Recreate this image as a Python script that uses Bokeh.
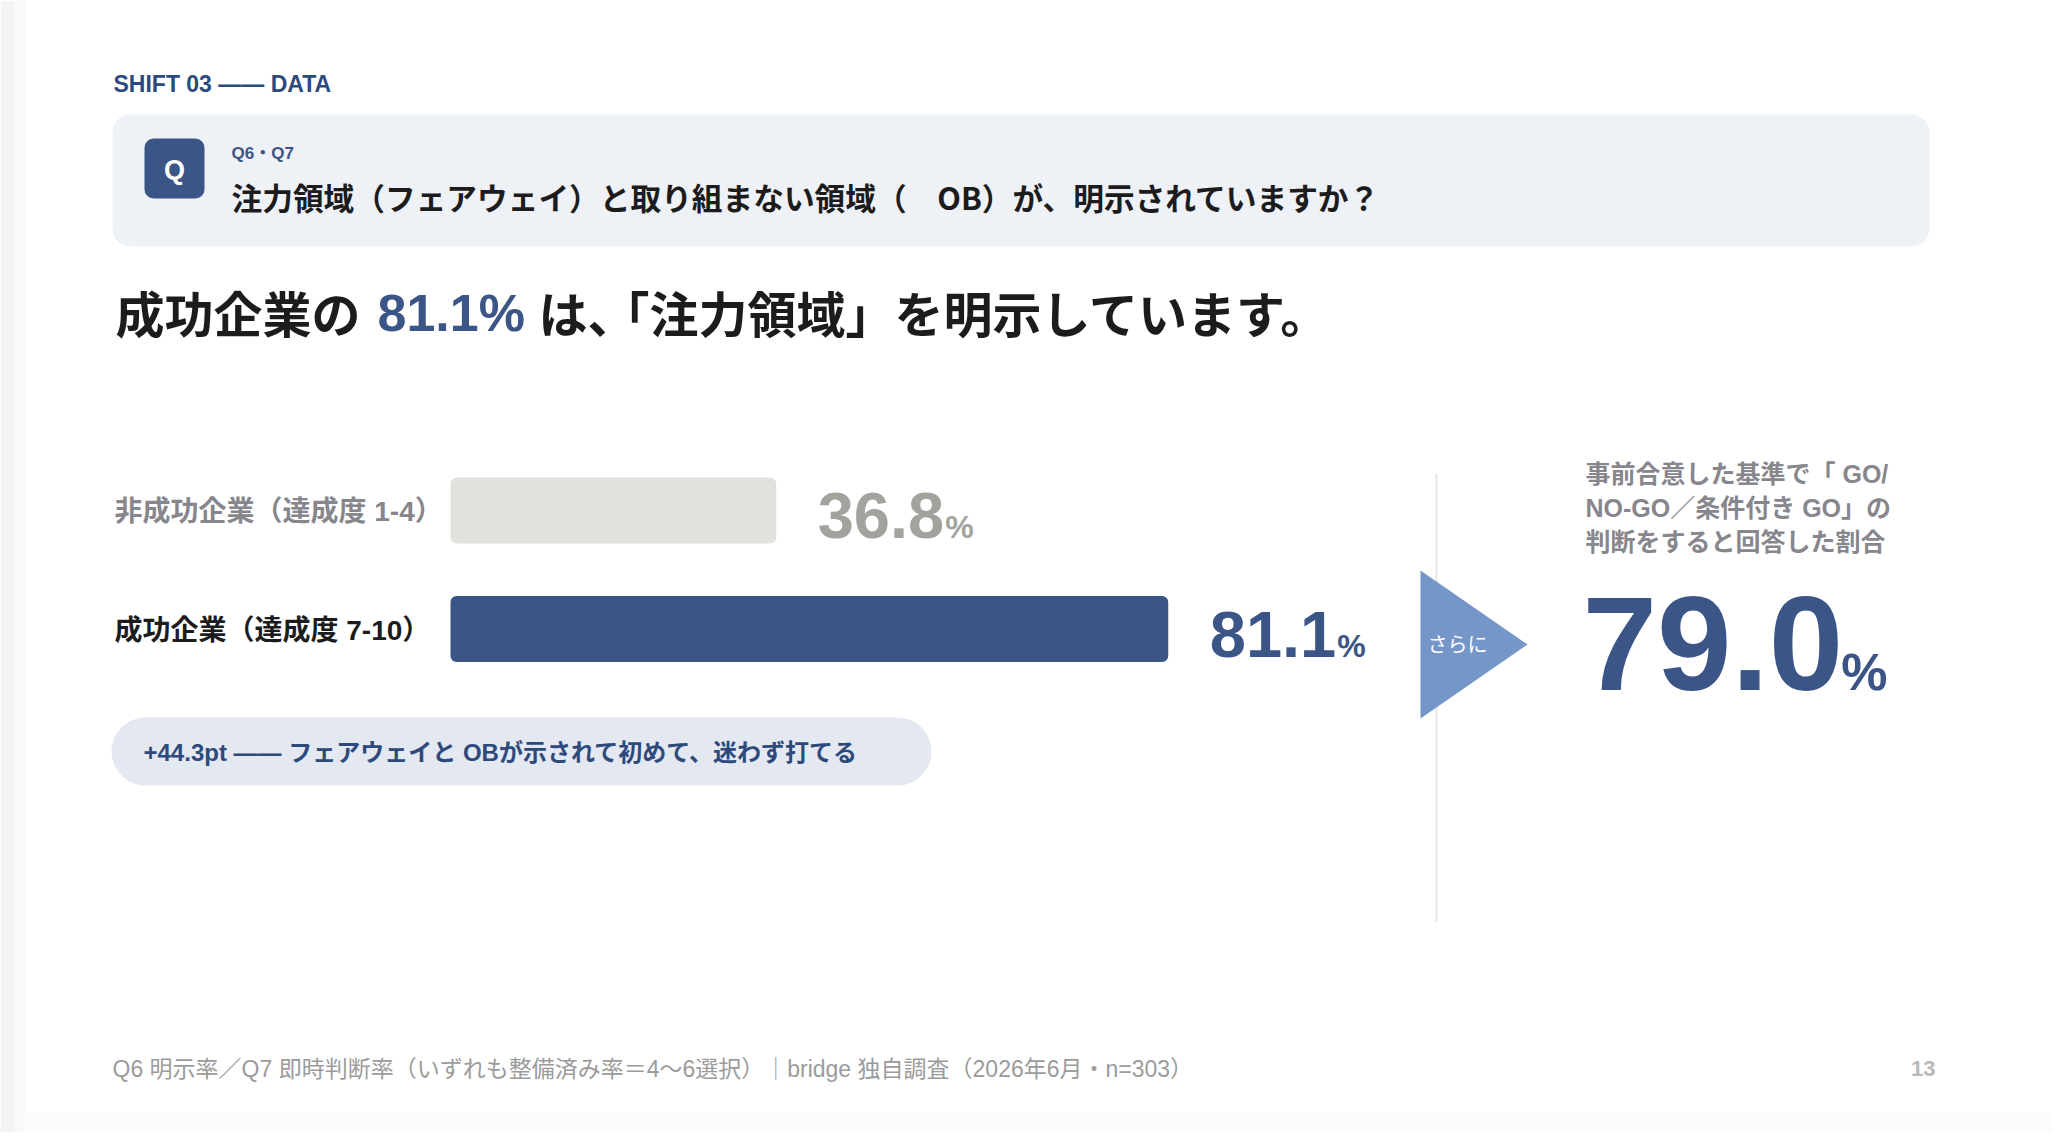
from bokeh.plotting import figure
from bokeh.models import Range1d
from bokeh.core.properties import value
from bokeh.embed import file_html
from bokeh.resources import INLINE

# ---------------- data ----------------
section_label = "SHIFT 03 —— DATA"
question_id = "Q6・Q7"
question_text = "注力領域（フェアウェイ）と取り組まない領域（　OB）が、明示されていますか？"
headline_parts = ["成功企業の", "81.1%", "は、", "「注力領域」を明示しています。"]
categories = ["非成功企業（達成度 1-4）", "成功企業（達成度 7-10）"]
values = [36.8, 81.1]
gap_note = "+44.3pt —— フェアウェイと OBが示されて初めて、迷わず打てる"
arrow_label = "さらに"
further_desc = ["事前合意した基準で「 GO/", "NO-GO／条件付き GO」の", "判断をすると回答した割合"]
further_value = 79.0
footer_text = "Q6 明示率／Q7 即時判断率（いずれも整備済み率＝4〜6選択）｜bridge 独自調査（2026年6月・n=303）"
page_no = "13"

# ---------------- styles ----------------
NAVY = "#3b5587"
DARK = "#1c1c1c"
GRAY_LABEL = "#86868c"
GRAY_NUM = "#a3a39d"
GRAY_BAR = "#e2e1dc"
BOX_BG = "#eef1f6"
PILL_BG = "#e4e8f1"
PILL_TXT = "#2e4a7d"
TRI = "#7596c8"
JP = "Noto Sans CJK JP"
LAT = "Liberation Sans"
MIX = "Liberation Sans, Noto Sans CJK JP"

W, H = 2052, 1132
OFF = 0             # figure origin on screen
BAR_X0 = 450.0      # screen x of 0 %
PX_PER_PCT = 8.85   # screen px per 1 %


def X(sx):
    return (sx - BAR_X0) / PX_PER_PCT


def Y(sy):
    return sy - OFF


def num_width(s, size):
    w = 0.0
    for ch in s:
        w += 0.278 if ch == "." else 0.556
    return w * size


p = figure(width=W, height=H, x_range=Range1d(X(OFF), X(OFF + W)), y_range=Range1d(H, 0),
           output_backend="svg", toolbar_location=None, min_border=0)
p.min_border_left = p.min_border_right = p.min_border_top = p.min_border_bottom = 0
p.axis.visible = False
p.grid.visible = False
p.outline_line_color = None
p.background_fill_color = "white"
p.border_fill_color = "white"


def txt(sx, sy, s, font, size, color, style="bold", align="left", baseline="middle"):
    p.text(x=[X(sx)], y=[Y(sy)], text=[s], text_font=value(font), text_font_size=value(f"{size}px"),
           text_font_style=style, text_color=color, text_align=align, text_baseline=baseline)


# page edge shading
p.quad(left=[X(0)], right=[X(14)], top=[Y(0)], bottom=[Y(1132)], color="#f4f4f4", line_color=None)
p.quad(left=[X(14)], right=[X(26)], top=[Y(0)], bottom=[Y(1132)], color="#f9f9f9", line_color=None)
p.quad(left=[X(26)], right=[X(2052)], top=[Y(1112)], bottom=[Y(1132)], color="#fbfbfb", line_color=None)

# section label
txt(113, 83, section_label, MIX, 23, "#2c4a80")

# question box
p.quad(left=[X(112)], right=[X(1929)], top=[Y(114)], bottom=[Y(246)], color=BOX_BG, line_color=None,
       border_radius=18)
p.quad(left=[X(144)], right=[X(204)], top=[Y(138)], bottom=[Y(198)], color=NAVY, line_color=None,
       border_radius=9)
txt(174, 169, "Q", LAT, 27, "white", align="center")
txt(231, 153, question_id, MIX, 17, NAVY)
txt(231, 196, question_text, JP, 30.7, DARK)

# headline
txt(115, 311, headline_parts[0], JP, 49, DARK)
txt(377, 312, headline_parts[1], LAT, 52, NAVY)
txt(538, 311, headline_parts[2], JP, 49, DARK)
txt(600, 311, headline_parts[3], JP, 49, DARK)

# bars
bar_y = [Y(510), Y(628.5)]
bar_colors = [GRAY_BAR, NAVY]
num_colors = [GRAY_NUM, NAVY]
label_colors = [GRAY_LABEL, DARK]
p.hbar(y=bar_y, left=0, right=values, height=66, color=bar_colors, line_color=None, border_radius=6)

NUM_SIZE, PCT_SIZE = 65, 32
for i, (cat, v) in enumerate(zip(categories, values)):
    cy = bar_y[i]
    p.text(x=[X(114)], y=[cy + 1], text=[cat], text_font=value(MIX), text_font_size=value("28px"),
           text_font_style="bold", text_color=label_colors[i], text_baseline="middle")
    s = f"{v:.1f}"
    lx = v + 41.5 / PX_PER_PCT
    base = cy + 28
    p.text(x=[lx], y=[base - 0.35 * NUM_SIZE], text=[s], text_font=value(LAT),
           text_font_size=value(f"{NUM_SIZE}px"), text_font_style="bold", text_color=num_colors[i],
           text_baseline="middle")
    p.text(x=[lx + (num_width(s, NUM_SIZE) + 1) / PX_PER_PCT], y=[base - 0.35 * PCT_SIZE], text=["%"],
           text_font=value(LAT), text_font_size=value(f"{PCT_SIZE}px"), text_font_style="bold",
           text_color=num_colors[i], text_baseline="middle")

# gap pill
p.quad(left=[X(111)], right=[X(931)], top=[Y(717)], bottom=[Y(785)], color=PILL_BG, line_color=None,
       border_radius=34)
txt(143, 752, gap_note, MIX, 24, PILL_TXT)

# divider
p.segment(x0=[X(1436)], y0=[Y(473)], x1=[X(1436)], y1=[Y(922)], line_color="#e8e5df", line_width=2)

# arrow
p.patch(x=[X(1420), X(1420), X(1527)], y=[Y(570), Y(718), Y(644)], color=TRI, line_color=None)
txt(1427, 643, arrow_label, JP, 20, "white", style="normal")

# further stat
for i, line in enumerate(further_desc):
    txt(1585, 473 + 34 * i, line, MIX, 25, GRAY_LABEL)
fv = f"{further_value:.1f}"
BIG, BIGP = 134, 52
big_base = 690
p.text(x=[X(1582)], y=[Y(big_base - 0.35 * BIG)], text=[fv], text_font=value(LAT),
       text_font_size=value(f"{BIG}px"), text_font_style="bold", text_color=NAVY, text_baseline="middle")
p.text(x=[X(1582 + num_width(fv, BIG) - 2)], y=[Y(big_base - 0.35 * BIGP)], text=["%"], text_font=value(LAT),
       text_font_size=value(f"{BIGP}px"), text_font_style="bold", text_color=NAVY, text_baseline="middle")

# footer
txt(112, 1068, footer_text, MIX, 23, "#9b9b9b", style="normal")
txt(1935, 1068, page_no, LAT, 22, "#b8b8b8", align="right")

open("out.html", "w").write(file_html(p, INLINE))
